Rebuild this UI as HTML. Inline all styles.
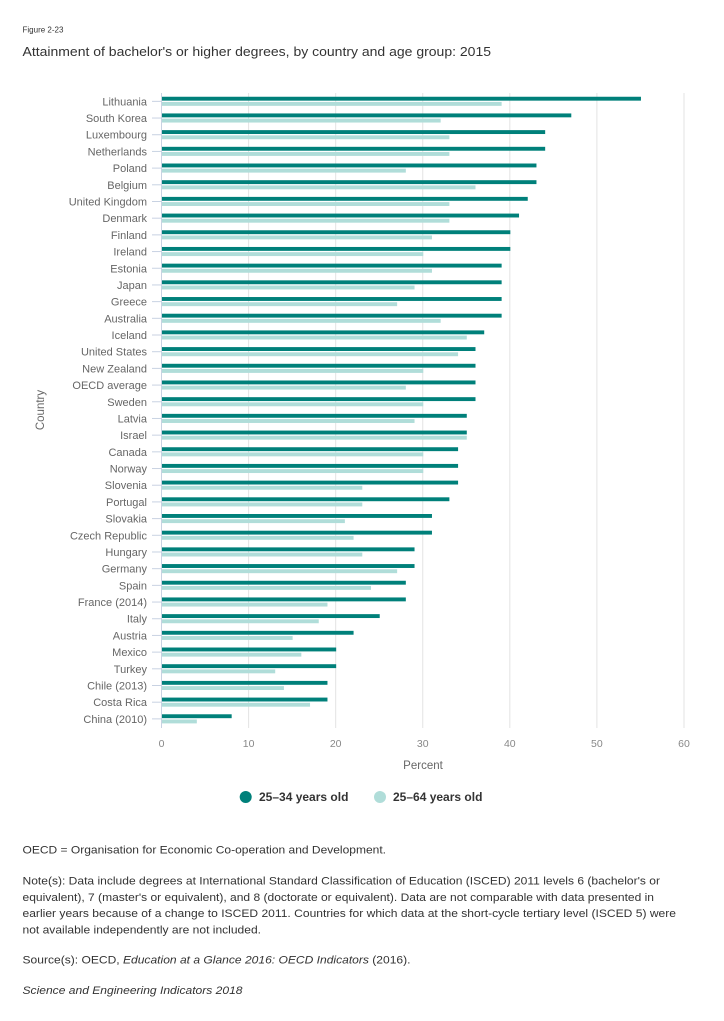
<!DOCTYPE html>
<html>
<head>
<meta charset="utf-8">
<style>
  html, body { margin: 0; padding: 0; background: #ffffff; }
  svg { display: block; }
  text { font-family: "Liberation Sans", Arial, sans-serif; }
  .lbl { font-size: 11px; fill: #666666; text-anchor: end; }
  .tick { font-size: 10.5px; fill: #888888; text-anchor: middle; }
  .note { font-size: 11px; fill: #333333; }
  .d { fill: #00807a; }
  .l { fill: #b0ddd9; }
</style>
</head>
<body>
<svg width="724" height="1021" viewBox="0 0 724 1021" xmlns="http://www.w3.org/2000/svg">
  <rect x="0" y="0" width="724" height="1021" fill="#ffffff"/>

  <!-- Titles -->
  <text x="22.5" y="32.7" style="font-size:8px;fill:#333333;">Figure 2-23</text>
  <text x="22.5" y="56" style="font-size:13px;fill:#333333;" textLength="468.5" lengthAdjust="spacingAndGlyphs">Attainment of bachelor's or higher degrees, by country and age group: 2015</text>

  <!-- Gridlines -->
  <g stroke="#e3e3e3" stroke-width="1">
    <line x1="248.6" y1="93" x2="248.6" y2="728"/>
    <line x1="335.7" y1="93" x2="335.7" y2="728"/>
    <line x1="422.75" y1="93" x2="422.75" y2="728"/>
    <line x1="509.8" y1="93" x2="509.8" y2="728"/>
    <line x1="596.9" y1="93" x2="596.9" y2="728"/>
    <line x1="684" y1="93" x2="684" y2="728"/>
  </g>

  <!-- Axis line -->
  <line x1="161.5" y1="93" x2="161.5" y2="728" stroke="#c8d2e2" stroke-width="1"/>

  <!-- Rows -->
  <g transform="translate(0,101.35)"><line x1="152" y1="0" x2="161" y2="0" stroke="#c8d2e2"/><rect class="d" x="162" y="-4.6" width="478.96" height="3.9"/><rect class="l" x="162" y="0.6" width="339.63" height="3.9"/><text class="lbl" x="147" y="4">Lithuania</text></g>
  <g transform="translate(0,118.04)"><line x1="152" y1="0" x2="161" y2="0" stroke="#c8d2e2"/><rect class="d" x="162" y="-4.6" width="409.29" height="3.9"/><rect class="l" x="162" y="0.6" width="278.67" height="3.9"/><text class="lbl" x="147" y="4">South Korea</text></g>
  <g transform="translate(0,134.73)"><line x1="152" y1="0" x2="161" y2="0" stroke="#c8d2e2"/><rect class="d" x="162" y="-4.6" width="383.17" height="3.9"/><rect class="l" x="162" y="0.6" width="287.38" height="3.9"/><text class="lbl" x="147" y="4">Luxembourg</text></g>
  <g transform="translate(0,151.42)"><line x1="152" y1="0" x2="161" y2="0" stroke="#c8d2e2"/><rect class="d" x="162" y="-4.6" width="383.17" height="3.9"/><rect class="l" x="162" y="0.6" width="287.38" height="3.9"/><text class="lbl" x="147" y="4">Netherlands</text></g>
  <g transform="translate(0,168.11)"><line x1="152" y1="0" x2="161" y2="0" stroke="#c8d2e2"/><rect class="d" x="162" y="-4.6" width="374.46" height="3.9"/><rect class="l" x="162" y="0.6" width="243.83" height="3.9"/><text class="lbl" x="147" y="4">Poland</text></g>
  <g transform="translate(0,184.80)"><line x1="152" y1="0" x2="161" y2="0" stroke="#c8d2e2"/><rect class="d" x="162" y="-4.6" width="374.46" height="3.9"/><rect class="l" x="162" y="0.6" width="313.50" height="3.9"/><text class="lbl" x="147" y="4">Belgium</text></g>
  <g transform="translate(0,201.49)"><line x1="152" y1="0" x2="161" y2="0" stroke="#c8d2e2"/><rect class="d" x="162" y="-4.6" width="365.75" height="3.9"/><rect class="l" x="162" y="0.6" width="287.38" height="3.9"/><text class="lbl" x="147" y="4">United Kingdom</text></g>
  <g transform="translate(0,218.18)"><line x1="152" y1="0" x2="161" y2="0" stroke="#c8d2e2"/><rect class="d" x="162" y="-4.6" width="357.04" height="3.9"/><rect class="l" x="162" y="0.6" width="287.38" height="3.9"/><text class="lbl" x="147" y="4">Denmark</text></g>
  <g transform="translate(0,234.87)"><line x1="152" y1="0" x2="161" y2="0" stroke="#c8d2e2"/><rect class="d" x="162" y="-4.6" width="348.33" height="3.9"/><rect class="l" x="162" y="0.6" width="269.96" height="3.9"/><text class="lbl" x="147" y="4">Finland</text></g>
  <g transform="translate(0,251.56)"><line x1="152" y1="0" x2="161" y2="0" stroke="#c8d2e2"/><rect class="d" x="162" y="-4.6" width="348.33" height="3.9"/><rect class="l" x="162" y="0.6" width="261.25" height="3.9"/><text class="lbl" x="147" y="4">Ireland</text></g>
  <g transform="translate(0,268.25)"><line x1="152" y1="0" x2="161" y2="0" stroke="#c8d2e2"/><rect class="d" x="162" y="-4.6" width="339.63" height="3.9"/><rect class="l" x="162" y="0.6" width="269.96" height="3.9"/><text class="lbl" x="147" y="4">Estonia</text></g>
  <g transform="translate(0,284.94)"><line x1="152" y1="0" x2="161" y2="0" stroke="#c8d2e2"/><rect class="d" x="162" y="-4.6" width="339.63" height="3.9"/><rect class="l" x="162" y="0.6" width="252.54" height="3.9"/><text class="lbl" x="147" y="4">Japan</text></g>
  <g transform="translate(0,301.63)"><line x1="152" y1="0" x2="161" y2="0" stroke="#c8d2e2"/><rect class="d" x="162" y="-4.6" width="339.63" height="3.9"/><rect class="l" x="162" y="0.6" width="235.13" height="3.9"/><text class="lbl" x="147" y="4">Greece</text></g>
  <g transform="translate(0,318.32)"><line x1="152" y1="0" x2="161" y2="0" stroke="#c8d2e2"/><rect class="d" x="162" y="-4.6" width="339.63" height="3.9"/><rect class="l" x="162" y="0.6" width="278.67" height="3.9"/><text class="lbl" x="147" y="4">Australia</text></g>
  <g transform="translate(0,335.01)"><line x1="152" y1="0" x2="161" y2="0" stroke="#c8d2e2"/><rect class="d" x="162" y="-4.6" width="322.21" height="3.9"/><rect class="l" x="162" y="0.6" width="304.79" height="3.9"/><text class="lbl" x="147" y="4">Iceland</text></g>
  <g transform="translate(0,351.70)"><line x1="152" y1="0" x2="161" y2="0" stroke="#c8d2e2"/><rect class="d" x="162" y="-4.6" width="313.50" height="3.9"/><rect class="l" x="162" y="0.6" width="296.08" height="3.9"/><text class="lbl" x="147" y="4">United States</text></g>
  <g transform="translate(0,368.39)"><line x1="152" y1="0" x2="161" y2="0" stroke="#c8d2e2"/><rect class="d" x="162" y="-4.6" width="313.50" height="3.9"/><rect class="l" x="162" y="0.6" width="261.25" height="3.9"/><text class="lbl" x="147" y="4">New Zealand</text></g>
  <g transform="translate(0,385.08)"><line x1="152" y1="0" x2="161" y2="0" stroke="#c8d2e2"/><rect class="d" x="162" y="-4.6" width="313.50" height="3.9"/><rect class="l" x="162" y="0.6" width="243.83" height="3.9"/><text class="lbl" x="147" y="4">OECD average</text></g>
  <g transform="translate(0,401.77)"><line x1="152" y1="0" x2="161" y2="0" stroke="#c8d2e2"/><rect class="d" x="162" y="-4.6" width="313.50" height="3.9"/><rect class="l" x="162" y="0.6" width="261.25" height="3.9"/><text class="lbl" x="147" y="4">Sweden</text></g>
  <g transform="translate(0,418.46)"><line x1="152" y1="0" x2="161" y2="0" stroke="#c8d2e2"/><rect class="d" x="162" y="-4.6" width="304.79" height="3.9"/><rect class="l" x="162" y="0.6" width="252.54" height="3.9"/><text class="lbl" x="147" y="4">Latvia</text></g>
  <g transform="translate(0,435.15)"><line x1="152" y1="0" x2="161" y2="0" stroke="#c8d2e2"/><rect class="d" x="162" y="-4.6" width="304.79" height="3.9"/><rect class="l" x="162" y="0.6" width="304.79" height="3.9"/><text class="lbl" x="147" y="4">Israel</text></g>
  <g transform="translate(0,451.84)"><line x1="152" y1="0" x2="161" y2="0" stroke="#c8d2e2"/><rect class="d" x="162" y="-4.6" width="296.08" height="3.9"/><rect class="l" x="162" y="0.6" width="261.25" height="3.9"/><text class="lbl" x="147" y="4">Canada</text></g>
  <g transform="translate(0,468.53)"><line x1="152" y1="0" x2="161" y2="0" stroke="#c8d2e2"/><rect class="d" x="162" y="-4.6" width="296.08" height="3.9"/><rect class="l" x="162" y="0.6" width="261.25" height="3.9"/><text class="lbl" x="147" y="4">Norway</text></g>
  <g transform="translate(0,485.22)"><line x1="152" y1="0" x2="161" y2="0" stroke="#c8d2e2"/><rect class="d" x="162" y="-4.6" width="296.08" height="3.9"/><rect class="l" x="162" y="0.6" width="200.29" height="3.9"/><text class="lbl" x="147" y="4">Slovenia</text></g>
  <g transform="translate(0,501.91)"><line x1="152" y1="0" x2="161" y2="0" stroke="#c8d2e2"/><rect class="d" x="162" y="-4.6" width="287.38" height="3.9"/><rect class="l" x="162" y="0.6" width="200.29" height="3.9"/><text class="lbl" x="147" y="4">Portugal</text></g>
  <g transform="translate(0,518.60)"><line x1="152" y1="0" x2="161" y2="0" stroke="#c8d2e2"/><rect class="d" x="162" y="-4.6" width="269.96" height="3.9"/><rect class="l" x="162" y="0.6" width="182.88" height="3.9"/><text class="lbl" x="147" y="4">Slovakia</text></g>
  <g transform="translate(0,535.29)"><line x1="152" y1="0" x2="161" y2="0" stroke="#c8d2e2"/><rect class="d" x="162" y="-4.6" width="269.96" height="3.9"/><rect class="l" x="162" y="0.6" width="191.58" height="3.9"/><text class="lbl" x="147" y="4">Czech Republic</text></g>
  <g transform="translate(0,551.98)"><line x1="152" y1="0" x2="161" y2="0" stroke="#c8d2e2"/><rect class="d" x="162" y="-4.6" width="252.54" height="3.9"/><rect class="l" x="162" y="0.6" width="200.29" height="3.9"/><text class="lbl" x="147" y="4">Hungary</text></g>
  <g transform="translate(0,568.67)"><line x1="152" y1="0" x2="161" y2="0" stroke="#c8d2e2"/><rect class="d" x="162" y="-4.6" width="252.54" height="3.9"/><rect class="l" x="162" y="0.6" width="235.13" height="3.9"/><text class="lbl" x="147" y="4">Germany</text></g>
  <g transform="translate(0,585.36)"><line x1="152" y1="0" x2="161" y2="0" stroke="#c8d2e2"/><rect class="d" x="162" y="-4.6" width="243.83" height="3.9"/><rect class="l" x="162" y="0.6" width="209.00" height="3.9"/><text class="lbl" x="147" y="4">Spain</text></g>
  <g transform="translate(0,602.05)"><line x1="152" y1="0" x2="161" y2="0" stroke="#c8d2e2"/><rect class="d" x="162" y="-4.6" width="243.83" height="3.9"/><rect class="l" x="162" y="0.6" width="165.46" height="3.9"/><text class="lbl" x="147" y="4">France (2014)</text></g>
  <g transform="translate(0,618.74)"><line x1="152" y1="0" x2="161" y2="0" stroke="#c8d2e2"/><rect class="d" x="162" y="-4.6" width="217.71" height="3.9"/><rect class="l" x="162" y="0.6" width="156.75" height="3.9"/><text class="lbl" x="147" y="4">Italy</text></g>
  <g transform="translate(0,635.43)"><line x1="152" y1="0" x2="161" y2="0" stroke="#c8d2e2"/><rect class="d" x="162" y="-4.6" width="191.58" height="3.9"/><rect class="l" x="162" y="0.6" width="130.63" height="3.9"/><text class="lbl" x="147" y="4">Austria</text></g>
  <g transform="translate(0,652.12)"><line x1="152" y1="0" x2="161" y2="0" stroke="#c8d2e2"/><rect class="d" x="162" y="-4.6" width="174.17" height="3.9"/><rect class="l" x="162" y="0.6" width="139.33" height="3.9"/><text class="lbl" x="147" y="4">Mexico</text></g>
  <g transform="translate(0,668.81)"><line x1="152" y1="0" x2="161" y2="0" stroke="#c8d2e2"/><rect class="d" x="162" y="-4.6" width="174.17" height="3.9"/><rect class="l" x="162" y="0.6" width="113.21" height="3.9"/><text class="lbl" x="147" y="4">Turkey</text></g>
  <g transform="translate(0,685.50)"><line x1="152" y1="0" x2="161" y2="0" stroke="#c8d2e2"/><rect class="d" x="162" y="-4.6" width="165.46" height="3.9"/><rect class="l" x="162" y="0.6" width="121.92" height="3.9"/><text class="lbl" x="147" y="4">Chile (2013)</text></g>
  <g transform="translate(0,702.19)"><line x1="152" y1="0" x2="161" y2="0" stroke="#c8d2e2"/><rect class="d" x="162" y="-4.6" width="165.46" height="3.9"/><rect class="l" x="162" y="0.6" width="148.04" height="3.9"/><text class="lbl" x="147" y="4">Costa Rica</text></g>
  <g transform="translate(0,718.88)"><line x1="152" y1="0" x2="161" y2="0" stroke="#c8d2e2"/><rect class="d" x="162" y="-4.6" width="69.67" height="3.9"/><rect class="l" x="162" y="0.6" width="34.83" height="3.9"/><text class="lbl" x="147" y="4">China (2010)</text></g>

  <!-- X tick labels -->
  <text class="tick" x="161.5" y="747">0</text>
  <text class="tick" x="248.6" y="747">10</text>
  <text class="tick" x="335.7" y="747">20</text>
  <text class="tick" x="422.75" y="747">30</text>
  <text class="tick" x="509.8" y="747">40</text>
  <text class="tick" x="596.9" y="747">50</text>
  <text class="tick" x="684" y="747">60</text>

  <!-- Axis titles -->
  <text x="423" y="769" style="font-size:11.5px;fill:#666666;text-anchor:middle;">Percent</text>
  <text transform="translate(44,410) rotate(-90)" x="0" y="0" style="font-size:11.5px;fill:#666666;text-anchor:middle;">Country</text>

  <!-- Legend -->
  <circle cx="245.7" cy="797" r="6" fill="#00807a"/>
  <text x="259" y="801.2" style="font-size:12px;font-weight:bold;fill:#333333;">25–34 years old</text>
  <circle cx="380" cy="797" r="6" fill="#b0ddd9"/>
  <text x="393" y="801.2" style="font-size:12px;font-weight:bold;fill:#333333;">25–64 years old</text>

  <!-- Footnotes -->
  <text class="note" x="22.5" y="853.5" textLength="363.5" lengthAdjust="spacingAndGlyphs">OECD = Organisation for Economic Co-operation and Development.</text>
  <text class="note" x="22.5" y="884.5" textLength="637.5" lengthAdjust="spacingAndGlyphs">Note(s): Data include degrees at International Standard Classification of Education (ISCED) 2011 levels 6 (bachelor's or</text>
  <text class="note" x="22.5" y="900.9" textLength="631.5" lengthAdjust="spacingAndGlyphs">equivalent), 7 (master's or equivalent), and 8 (doctorate or equivalent). Data are not comparable with data presented in</text>
  <text class="note" x="22.5" y="917.2" textLength="653.5" lengthAdjust="spacingAndGlyphs">earlier years because of a change to ISCED 2011. Countries for which data at the short-cycle tertiary level (ISCED 5) were</text>
  <text class="note" x="22.5" y="933.5" textLength="238.5" lengthAdjust="spacingAndGlyphs">not available independently are not included.</text>
  <text class="note" x="22.5" y="963.5" textLength="388" lengthAdjust="spacingAndGlyphs">Source(s): OECD, <tspan style="font-style:italic;">Education at a Glance 2016: OECD Indicators</tspan>  (2016).</text>
  <text class="note" x="22.5" y="993.8" style="font-style:italic;" textLength="220" lengthAdjust="spacingAndGlyphs">Science and Engineering Indicators 2018</text>
</svg>
</body>
</html>
